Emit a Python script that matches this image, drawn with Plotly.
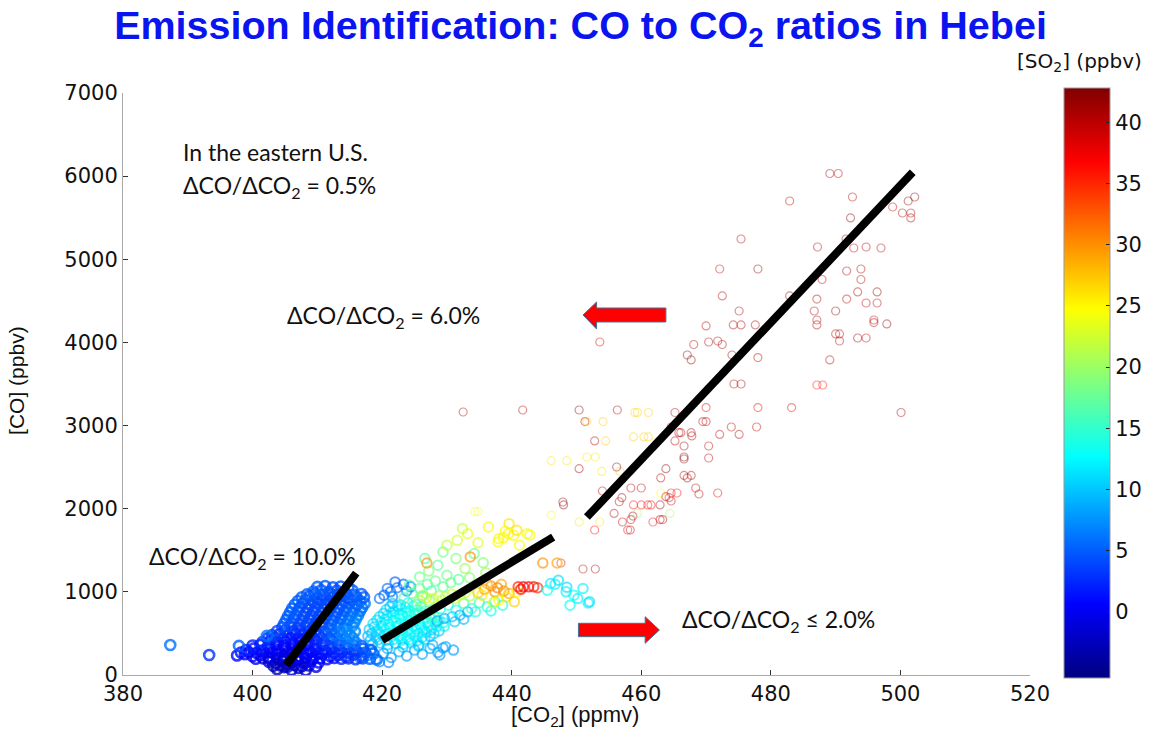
import plotly.graph_objects as go

# ---------------- data ----------------
# Blue cluster (low CO2, low SO2)
blob_co2 = [403.8,404.9,406.0,407.1,408.2,405.4,
            403.2,404.3,405.4,406.5,407.6,408.7,409.8,
            402.5,403.6,404.7,405.8,406.9,408.0,409.1,410.2,
            400.5,401.6,402.7,403.8,404.9,406.0,407.1,408.2,409.3,410.4,411.5,412.6,413.7,414.8,415.9,417.0,418.1,419.2,
            397.6,398.8,400.0,401.2,402.4,403.6,404.8,406.0,407.2,408.4,409.6,410.8,412.0,413.2,414.4,415.6,416.8,
            398.2,399.4,400.6,401.8,403.0,404.2,405.4,406.6,407.8,409.0,410.2,411.4,412.6,413.8,415.0,416.2,417.4,418.6,
            399.0,400.2,401.4,402.6,403.8,405.0,406.2,407.4,408.6,409.8,411.0,412.2,413.4,414.6,415.8,417.0,418.2,
            400.0,401.2,402.4,403.6,404.8,406.0,407.2,408.4,409.6,410.8,412.0,413.2,414.4,415.6,416.8,
            401.5,402.7,403.9,405.1,406.3,407.5,408.7,409.9,411.1,412.3,413.5,414.7,415.9,
            402.3,403.5,404.7,405.9,407.1,408.3,409.5,410.7,411.9,413.1,414.3,415.5,
            403.0,404.2,405.4,406.6,407.8,409.0,410.2,411.4,412.6,413.8,415.0,
            403.8,405.0,406.2,407.4,408.6,409.8,411.0,412.2,413.4,414.6,415.8,
            404.6,405.8,407.0,408.2,409.4,410.6,411.8,413.0,414.2,415.4,
            404.9,406.1,407.3,408.5,409.7,410.9,412.1,413.3,414.5,415.7,
            405.2,406.4,407.6,408.8,410.0,411.2,412.4,413.6,414.8,416.0,
            405.5,406.7,407.9,409.1,410.3,411.5,412.7,413.9,415.1,416.3,
            405.8,407.0,408.2,409.4,410.6,411.8,413.0,414.2,415.4,416.6,
            406.1,407.3,408.5,409.7,410.9,412.1,413.3,414.5,415.7,416.9,
            406.5,407.7,408.9,410.1,411.3,412.5,413.7,414.9,416.1,417.3,
            407.0,408.2,409.4,410.6,411.8,413.0,414.2,415.4,416.6,
            407.6,408.8,410.0,411.2,412.4,413.6,414.8,416.0,417.2,
            408.4,409.6,410.8,412.0,413.2,414.4,415.6,416.8,
            409.4,410.6,411.8,413.0,414.2,415.4,
            410.0,411.2,412.4,413.6,414.8,
            387.3,393.3,402.2,397.9]
blob_co = [70,95,60,85,55,130,
           110,115,100,120,105,115,100,
           160,140,175,150,165,145,170,150,
           195,200,190,205,195,200,190,205,195,200,190,205,195,200,190,200,195,185,
           235,250,225,240,215,245,230,255,220,245,230,250,225,240,220,245,230,
           270,275,265,280,270,275,265,280,270,275,265,280,270,275,265,280,270,260,
           300,320,295,315,300,325,305,320,300,315,295,320,305,325,300,315,300,
           355,360,350,365,350,360,350,365,355,360,350,365,355,360,350,
           395,410,390,405,385,410,395,405,390,410,395,405,390,
           440,450,435,445,440,450,435,445,440,450,435,445,
           480,495,475,500,485,495,480,500,485,495,480,
           530,540,525,535,530,540,525,535,530,540,525,
           575,590,570,585,575,590,570,585,575,590,
           620,630,615,625,620,630,615,625,620,630,
           665,680,660,675,665,680,660,675,665,680,
           710,720,705,715,710,720,705,715,710,720,
           755,770,750,765,755,770,750,765,755,770,
           800,810,795,805,800,810,795,805,800,810,
           845,860,840,855,845,860,840,855,845,860,
           890,900,885,895,890,900,885,895,890,
           935,950,930,945,935,950,930,945,935,
           970,980,965,975,970,980,965,975,
           1005,1020,1000,1015,1005,1020,
           1060,1070,1055,1065,1060,
           360,240,470,350]
blob_so2 = [-3,-2.5,-2,-2,-1.5,-3,
            -3,-3,-2.5,-2,-2,-1.5,-1,
            -2,-2,-3,-2.5,-1,-1,0,0.5,
            0,-1,-1.5,-2,-2,-2,-1.5,-1,0,0.5,1,1.5,2,2.5,3,4,5,6,
            1,0.5,0,0,-1,-1.5,-1,-0.5,0,0.5,1,1.5,1,2,2.5,3,4,
            1,0.5,0,0,-0.5,-1,-1,-0.5,0,0.5,1,1.5,2,2.5,3,3.5,4.5,5.5,
            2,1.5,1,0.5,0,-0.5,0,0.5,1,1,1.5,2,2.5,3,3,4,5,
            2,1.5,1,0.5,0,0,0.5,1,1.5,2,2.5,3,4,5,5,
            3,2,1,0.5,0.5,1,1.5,2,3,4,5,6,6,
            3,2,1.5,1,1,1.5,2,3,4,5,6,7,
            4,3,2,1.5,1.5,2,3,5,6,7,7,
            4,3,2,2,2.5,3,4,5,6,7,7,
            4,4,3,3,3.5,4,5,6,7,7,
            4.5,4,3.5,3.5,3.5,4,5,6,7,7,
            5,4,4,4,3.5,4,5,5,6,7,
            5,4.5,4,4,4,4,5,5.5,6,7,
            5,4.5,4,4,4,4,4.5,5,6,6,
            5,4.5,4,4,4,4,4.5,5,6,6,
            5,4.5,4,4,4,4,4.5,5,5,6,
            5,4.5,4,4,4,4,4.5,5,5.5,
            5,4.5,4,4,4,4,4,4.5,5,
            5,4.5,4,4,4,4.5,5,5,
            5,5,4.5,4.5,4.5,5,
            5,5,4.5,4.5,5,
            6,3,6,5]

# Middle cluster (cyan / green / yellow / orange / red)
mid_co2 = [420.3,421.3,422.3,423.3,420.8,422.0,423.8,421.6,419.6,424.4,
           418.5,419.7,420.9,422.1,423.3,424.5,425.7,
           418.2,419.4,420.6,421.8,423.0,424.2,425.4,426.6,
           417.8,419.0,420.2,421.4,422.6,423.8,425.0,426.2,427.4,
           418.4,419.6,420.8,422.0,423.2,424.4,425.6,426.8,428.0,
           418.0,419.2,420.4,421.6,422.8,424.0,425.2,426.4,427.6,428.8,
           418.8,420.0,421.2,422.4,423.6,424.8,426.0,427.2,428.4,429.6,
           418.6,419.8,421.0,422.2,423.4,424.6,425.8,427.0,428.2,429.4,
           419.2,420.4,421.6,422.8,424.0,425.2,426.4,427.6,428.8,
           419.6,420.8,422.0,423.2,424.4,425.6,426.8,428.0,
           420.2,421.4,422.6,423.8,425.0,426.2,427.4,
           420.6,421.8,423.0,424.2,425.4,426.6,427.8,
           421.2,422.4,423.6,424.8,426.0,
           421.6,422.8,424.0,425.2,
           416.6,417.8,419.0,420.2,421.4,422.6,423.8,425.0,426.2,427.4,428.6,429.8,431.0,
           418.4,420.8,423.2,425.6,427.8,429.4,428.9,419.6,421.0,
           428.5,429.6,430.8,432.0,433.2,431.2,432.6,
           429.0,430.2,431.4,432.6,433.8,435.0,436.2,437.4,438.6,434.4,436.8,
           423.4,424.6,425.8,427.0,428.2,426.2,429.4,430.6,431.8,424.2,427.6,
           425.8,426.8,427.8,428.8,429.8,430.8,431.8,432.8,427.3,429.3,431.3,433.5,426.2,
           434.8,435.8,436.8,437.8,438.8,439.6,436.2,437.4,438.4,435.4,
           438.0,439.2,440.4,440.8,437.2,
           441.0,441.8,442.6,443.4,444.0,441.4,
           446.0,447.2,448.4,449.6,451.0,452.0,446.7,448.5,451.8,449.0,450.2,445.5,
           425.8,427.2,428.6,430.0,431.4,432.8,434.2,435.6,429.4,426.6,433.5,436.0,
           426.9,433.6,444.8,447.0,
           430.0,431.6,433.2,434.8,436.4,438.0,439.6,441.2,442.4,432.4,
           437.9,438.7,439.5,440.3,440.8,439.0,442.8]
mid_co = [960,1000,1050,1090,1040,1120,1010,940,920,1060,
          370,385,365,380,370,385,360,
          420,425,415,430,420,425,415,430,
          465,450,470,455,465,450,470,455,465,
          500,505,495,510,500,505,495,510,500,
          545,530,550,535,545,530,550,535,545,530,
          580,585,575,590,580,585,575,590,580,585,
          615,630,610,625,615,630,610,625,615,630,
          660,665,655,670,660,665,655,670,660,
          700,715,695,710,700,715,695,710,
          740,745,735,750,740,745,735,
          785,770,790,775,785,770,790,
          820,825,815,830,820,
          860,845,865,850,
          200,235,190,260,210,280,230,300,250,320,270,340,300,
          300,320,335,345,360,325,240,160,150,
          650,680,700,720,760,640,670,
          800,840,780,860,800,870,820,880,840,760,770,
          930,980,1040,1090,1130,950,1060,1110,1150,1080,1010,
          900,930,920,950,940,970,960,990,890,900,920,950,955,
          990,1030,1070,1050,1010,980,1100,1000,1090,960,
          900,940,880,1000,870,
          1060,1060,1060,1060,1050,1030,
          1100,1140,1000,960,1040,880,1091,1055,866,840,920,1020,
          1180,1250,1320,1200,1400,1280,1460,1350,1480,1400,1170,1230,
          1347,1420,1347,1347,
          1560,1620,1700,1590,1780,1640,1820,1560,1700,1760,
          1600,1650,1700,1680,1740,1730,1684]
mid_so2 = [5,5.5,6,5,6,5,6.5,7,6,7,
           9,10,11,11,12,12,11,
           9,10,11,11.5,12,12,11.5,11,
           9,10,11,12,12,12.5,12,11,10,
           10,11,11.5,12,12.5,12.5,12,11.5,10.5,
           10,11,12,12.5,13,12.5,12,12,11,10,
           10.5,11.5,12,12.5,13,12.5,12,12,12,12,
           11,12,12.5,13,13,12.5,12,12,13,14,
           11,12,12.5,13,13,13,13,14,14,
           11,12,12.5,13,13.5,14,15,16,
           11,12,12.5,13,14,15,16,
           11,12,13,14,15,16,17,
           10,11,12,14,15,
           10,11,13,15,
           6,7,7,8,8,9,8,9,8.5,9,8,9,8,
           8,9,10,10,9,8,8,7,7,
           9,9,10,9,9,10,9.5,
           14,15,14,16,15,16,15,16,14,14,13,
           16,17,18,17,18,15,17,18,17,16,16,
           21,22,23,22,21,22,23,22,20,21,22,21,21,
           27,29,30,31,30,29,28,30,29,26,
           25,26,27,25,24,
           36,37,37,36,35,37,
           12,11,12,13,12,11,12,11,12,13,12,13,
           18,19,17,18,19,20,18,19,18,17,19,20,
           30,30,30,29,
           22,23,24,23,25,24,26,25,24,22,
           25,25,25,25,26,25,25]

# Upper scatter (high CO2, high CO, high SO2)
upper_co2 = [489.1,490.4,492.6,482.9,501.2,502.2,498.8,500.3,501.6,501.6,
             492.3,475.4,491.6,487.2,492.8,494.7,497.0,472.1,478.0,491.7,
             493.9,493.9,487.9,472.5,482.9,487.1,491.7,493.4,496.4,494.7,
             496.4,475.1,486.7,490.0,470.0,474.2,475.4,477.6,487.1,487.1,
             495.9,495.9,497.9,453.6,468.1,470.4,471.8,472.5,490.0,490.6,
             490.6,493.4,494.7,467.1,467.7,474.0,478.0,489.1,474.3,475.4,
             487.1,488.0,478.0,483.2,500.1,450.4,456.3,459.0,459.4,461.1,
             465.2,470.0,451.3,451.6,454.1,469.5,470.0,473.9,477.8,464.6,
             465.8,466.1,467.7,467.8,472.1,475.1,452.8,454.5,458.8,460.4,
             461.1,465.2,466.6,470.4,446.1,448.5,451.6,452.9,466.6,466.6,
             470.4,450.4,453.9,456.7,456.2,463.8,466.6,467.7,467.1,463.0,
             458.4,460.0,468.4,471.8,468.9,454.0,457.0,463.0,463.8,464.6,
             465.5,464.3,448.0,456.6,458.8,460.0,461.0,461.5,462.9,464.6,
             455.8,458.4,458.7,459.4,464.4,446.1,450.4,453.6,457.1,461.8,
             462.9,463.3,452.8,457.9,458.3,432.5,441.7,447.9,434.3,434.8,
             451.0,452.9,447.6]
upper_co = [6032,6032,5749,5701,5701,5749,5629,5557,5557,5497,
            5497,5244,5244,5148,5136,5148,5136,4883,4883,4859,
            4883,4757,4757,4559,4559,4522,4522,4607,4607,4474,
            4474,4378,4378,4378,4198,4210,4210,4210,4270,4210,
            4270,4239,4222,4005,3975,4005,4017,3975,4102,4102,
            4017,4053,4053,3849,3789,3849,3818,3789,3500,3500,
            3488,3488,3217,3217,3157,3187,3187,3157,3157,3157,
            3157,3217,3048,3048,3048,3048,3048,2983,2983,2983,
            2914,2914,2914,2875,2894,2894,2815,2815,2863,2863,
            2863,2815,2754,2754,2578,2578,2622,2622,2622,2598,
            2610,2481,2448,2448,2502,2481,2400,2400,2370,2370,
            2249,2249,2249,2189,2177,2213,2133,2189,2145,2189,
            2189,2133,2045,2084,2045,2045,2045,2045,2045,2093,
            1943,1869,1912,1943,1943,1924,1840,1840,1840,1840,
            1869,1869,1744,1744,1744,3163,3187,2081,1964,1964,
            1275,1275,1347]
upper_so2 = [41,40,40,40,42,42,40,41,40,40,
             42,40,41,40,40,40,40,39,42,41,
             41,40,40,40,42,41,40,41,42,40,
             40,40,40,42,40,40,40,40,40,40,
             40,40,42,39,40,41,40,41,40,40,
             40,42,40,42,42,41,40,40,40,41,
             36,36,38,38,41,42,40,27,27,27,
             40,39,40,27,27,40,40,40,40,40,
             40,40,41,40,40,40,40,27,27,27,
             27,40,41,40,26,26,26,26,42,42,
             40,41,26,27,42,42,40,40,41,40,
             40,40,40,38,40,40,41,25,40,37,
             37,37,42,40,36,36,36,37,41,40,
             40,40,41,20,20,25,26,26,40,37,
             40,40,37,37,40,40,40,42,24,24,
             40,40,39]

# Fitted ratio lines
line10_co2 = [405.2, 416.0]
line10_co = [120, 1226]
line2_co2 = [420.0, 446.4]
line2_co = [420, 1659]
line6_co2 = [451.6, 501.9]
line6_co = [1899, 6046]

x_ticks = [380, 400, 420, 440, 460, 480, 500, 520]
y_ticks = [0, 1000, 2000, 3000, 4000, 5000, 6000, 7000]
cb_ticks = [0, 5, 10, 15, 20, 25, 30, 35, 40]
so2_min, so2_max = -5.4, 42.8

# ---------------- figure ----------------
jet = [[0.0, "#000080"], [0.125, "#0000ff"], [0.375, "#00ffff"],
       [0.625, "#ffff00"], [0.875, "#ff0000"], [1.0, "#800000"]]

TICKFONT = dict(family="DejaVu Sans", size=21, color="#111111")
TEXTFONT = dict(family="Lato", size=23, color="#111111")

fig = go.Figure()

def scatter_group(xs, ys, cs, opacity, size, lw, with_bar=False):
    marker = dict(symbol="circle-open", size=size, color=cs, colorscale=jet,
                  cmin=so2_min, cmax=so2_max, opacity=opacity,
                  line=dict(width=lw), showscale=with_bar)
    if with_bar:
        marker["colorbar"] = dict(x=1.0375, xanchor="left", y=0.5017, yanchor="middle",
                                  thickness=46, thicknessmode="pixels",
                                  len=590, lenmode="pixels",
                                  tickvals=cb_ticks, ticks="inside", ticklen=4,
                                  tickcolor="#222", tickfont=TICKFONT,
                                  outlinewidth=1, outlinecolor="#999", ypad=0, xpad=0)
    fig.add_trace(go.Scatter(x=xs, y=ys, mode="markers", showlegend=False,
                             hoverinfo="skip", marker=marker))

scatter_group(upper_co2, upper_co, upper_so2, 0.42, 8, 1.2, with_bar=True)
scatter_group(mid_co2, mid_co, mid_so2, 0.65, 9.5, 2.0)
scatter_group(blob_co2, blob_co, blob_so2, 0.8, 10, 2.6)

for xs, ys in [(line10_co2, line10_co), (line2_co2, line2_co), (line6_co2, line6_co)]:
    fig.add_trace(go.Scatter(x=xs, y=ys, mode="lines", showlegend=False,
                             hoverinfo="skip", line=dict(color="black", width=8)))

# red block arrows
arrow_line = dict(color="#41719c", width=1)
fig.add_shape(type="path", xref="x", yref="y", layer="above",
              path="M 451.0 4330 L 453.1 4486 L 453.1 4414 L 463.8 4414 L 463.8 4246 L 453.1 4246 L 453.1 4162 Z",
              fillcolor="#ff0000", line=arrow_line)
fig.add_shape(type="path", xref="x", yref="y", layer="above",
              path="M 462.8 541 L 460.6 701 L 460.6 622 L 450.3 622 L 450.3 461 L 460.6 461 L 460.6 381 Z",
              fillcolor="#ff0000", line=arrow_line)

def note(text, x, y, **kw):
    d = dict(text=text, x=x, y=y, xref="paper", yref="paper", showarrow=False,
             xanchor="left", yanchor="middle", font=TEXTFONT)
    d.update(kw)
    fig.add_annotation(**d)

note("In the eastern U.S.", 0.0639, 0.8986)
note("ΔCO/ΔCO<sub>2</sub> = 0.5%", 0.0639, 0.8385)
note("ΔCO/ΔCO<sub>2</sub> = 6.0%", 0.1786, 0.6168)
note("ΔCO/ΔCO<sub>2</sub> = 10.0%", 0.0265, 0.2027)
note("ΔCO/ΔCO<sub>2</sub> ≤ 2.0%", 0.6141, 0.0945)
note("[SO<sub>2</sub>] (ppbv)", 1.0551, 1.0533, xanchor="center",
     font=dict(family="DejaVu Sans", size=20, color="#111"))
note("[CO<sub>2</sub>] (ppmv)", 0.498, -0.071, xanchor="center",
     font=dict(family="Liberation Sans", size=22, color="#111"))
note("[CO] (ppbv)", -0.1169, 0.507, xanchor="center", textangle=-90,
     font=dict(family="Liberation Sans", size=21, color="#111"))

fig.update_layout(
    width=1161, height=730,
    margin=dict(l=123, r=131, t=93, b=55),
    paper_bgcolor="white", plot_bgcolor="white",
    title=dict(text="Emission Identification: CO to CO<sub>2</sub> ratios in Hebei",
               x=0.5, xref="container", xanchor="center",
               y=0.966, yref="container", yanchor="middle",
               font=dict(family="Liberation Sans", size=39.5, color="#0a14f0",
                         weight="bold")),
    xaxis=dict(range=[380, 520], tickvals=x_ticks, showgrid=False, zeroline=False,
               showline=True, linecolor="#aaaaaa", linewidth=1, mirror=False,
               ticks="inside", ticklen=5, tickcolor="#333", tickfont=TICKFONT),
    yaxis=dict(range=[0, 7000], tickvals=y_ticks, showgrid=False, zeroline=False,
               showline=True, linecolor="#aaaaaa", linewidth=1, mirror=False,
               ticks="inside", ticklen=5, tickcolor="#333", tickfont=TICKFONT),
)

fig.write_html("out.html", config={"displayModeBar": False},
               post_script="document.body.style.margin='0';document.body.style.padding='0';")
